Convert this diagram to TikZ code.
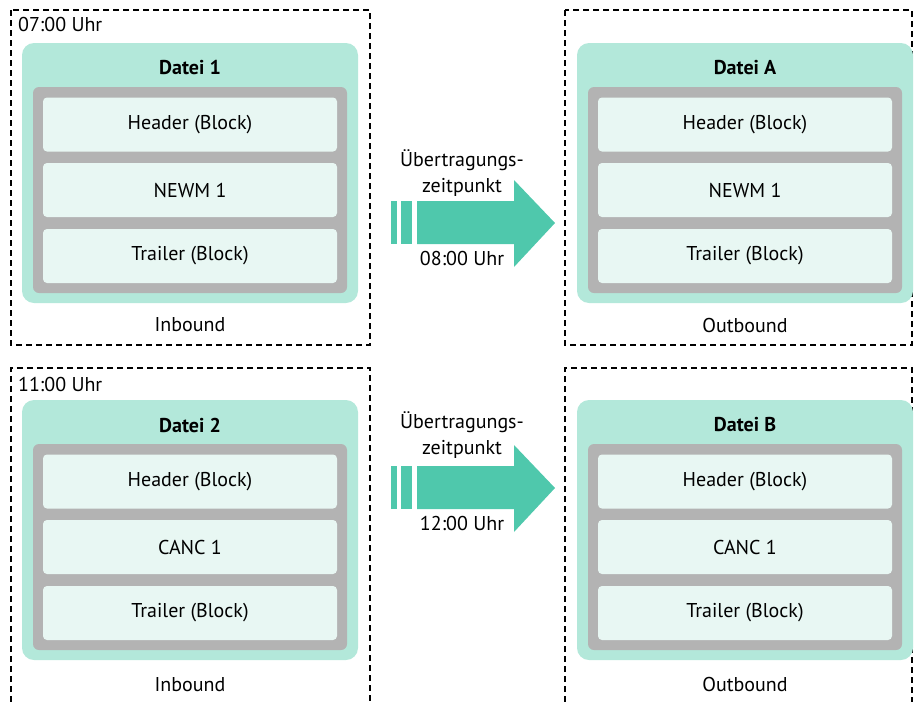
\documentclass[tikz,border=0pt]{standalone}
\usepackage{fontspec}
\setmainfont{PT Sans}
\usetikzlibrary{positioning}

\definecolor{mint}{HTML}{B3E8DA}
\definecolor{blockgray}{HTML}{B3B3B3}
\definecolor{blockfill}{HTML}{E8F7F3}
\definecolor{arrowgreen}{HTML}{4FC8AC}

\tikzset{
  frame/.style={draw=black,line width=1.4pt,dash pattern=on 6pt off 4pt},
  filebox/.style={fill=mint,rounded corners=12pt,minimum width=336pt,minimum height=260pt,inner sep=0pt},
  graybox/.style={fill=blockgray,rounded corners=6pt,minimum width=314pt,minimum height=206pt,inner sep=0pt},
  blockbox/.style={fill=blockfill,rounded corners=4pt,minimum width=294pt,minimum height=54pt,inner sep=0pt,font=\fontsize{20}{26}\selectfont},
  title/.style={font=\fontsize{20}{26}\selectfont\bfseries},
  label/.style={font=\fontsize{20}{26}\selectfont},
  bigarrow/.style={fill=arrowgreen}
}

\begin{document}
\begin{tikzpicture}[x=1pt,y=-1pt]
\useasboundingbox (0,0) rectangle (914,702);

% top left
\draw[frame] (11,10) rectangle (370,345);
\node[label,anchor=west,inner sep=0pt] (time1) at (18,24) {07:00 Uhr};
\node[filebox] (file1) at (190,173) {};
\node[graybox] (gray1) at (190,190) {};
\node[title] (name1) at (190,68) {Datei 1};
\node[blockbox] (head1) at (190,124.5) {Header (Block)};
\node[blockbox] (msg1) at (190,190) {NEWM 1};
\node[blockbox] (trail1) at (190,256) {Trailer (Block)};
\node[label] (in1) at (190,325) {Inbound};

% top right
\draw[frame] (565,10) rectangle (912,345);
\node[filebox] (fileA) at (745,173) {};
\node[graybox] (grayA) at (745,190) {};
\node[title] (nameA) at (745,68) {Datei A};
\node[blockbox] (headA) at (745,124.5) {Header (Block)};
\node[blockbox] (msgA) at (745,190) {NEWM 1};
\node[blockbox] (trailA) at (745,256) {Trailer (Block)};
\node[label] (outA) at (745,325) {Outbound};

% bottom left
\draw[frame] (11,702) -- (11,368) -- (370,368) -- (370,702);
\node[label,anchor=west,inner sep=0pt] (time2) at (18,384) {11:00 Uhr};
\node[filebox] (file2) at (190,530) {};
\node[graybox] (gray2) at (190,547) {};
\node[title] (name2) at (190,425) {Datei 2};
\node[blockbox] (head2) at (190,481.5) {Header (Block)};
\node[blockbox] (msg2) at (190,547) {CANC 1};
\node[blockbox] (trail2) at (190,613) {Trailer (Block)};
\node[label] (in2) at (190,685) {Inbound};

% bottom right
\draw[frame] (565,702) -- (565,368) -- (912,368) -- (912,702);
\node[filebox] (fileB) at (745,530) {};
\node[graybox] (grayB) at (745,547) {};
\node[title] (nameB) at (745,425) {Datei B};
\node[blockbox] (headB) at (745,481.5) {Header (Block)};
\node[blockbox] (msgB) at (745,547) {CANC 1};
\node[blockbox] (trailB) at (745,613) {Trailer (Block)};
\node[label] (outB) at (745,684) {Outbound};

% transfer arrows
\fill[bigarrow] (391,201) rectangle (397,244);
\fill[bigarrow] (401,201) rectangle (412,244);
\fill[bigarrow] (417,201) -- (514,201) -- (514,180) -- (555,223) -- (514,267) -- (514,244) -- (417,244) -- cycle;
\node[label,align=center] (when1) at (462,173) {Übertragungs-\\zeitpunkt};
\node[label] (at1) at (462,258) {08:00 Uhr};

\fill[bigarrow] (391,466) rectangle (397,509);
\fill[bigarrow] (401,466) rectangle (412,509);
\fill[bigarrow] (417,466) -- (514,466) -- (514,445) -- (555,488) -- (514,532) -- (514,509) -- (417,509) -- cycle;
\node[label,align=center] (when2) at (462,435) {Übertragungs-\\zeitpunkt};
\node[label] (at2) at (462,523) {12:00 Uhr};

\end{tikzpicture}
\end{document}
